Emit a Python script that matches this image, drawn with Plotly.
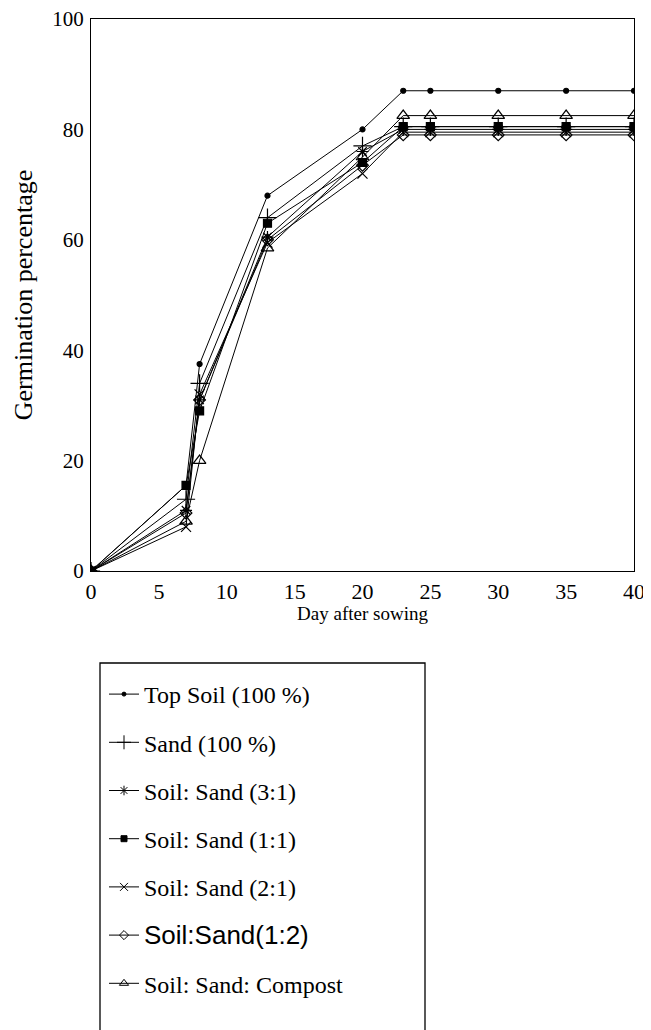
import plotly.graph_objects as go

days = [0, 7, 8, 13, 20, 23, 25, 30, 35, 40]

top_soil = [0, 15.5, 37.5, 68, 80, 87, 87, 87, 87, 87]
sand = [0, 13, 34, 64, 77, 80.5, 80.5, 80.5, 80.5, 80.5]
soil_sand_3_1 = [0, 11, 31, 60.5, 76, 80, 80, 80, 80, 80]
soil_sand_1_1 = [0, 15.5, 29, 63, 74, 80.5, 80.5, 80.5, 80.5, 80.5]
soil_sand_2_1 = [0, 8, 32, 59.5, 72, 79.5, 79.5, 79.5, 79.5, 79.5]
soil_sand_1_2 = [0, 10.5, 31, 60, 73.5, 79, 79, 79, 79, 79]
compost = [0, 9, 20, 58.5, 75, 82.5, 82.5, 82.5, 82.5, 82.5]

names = [
    "Top Soil (100 %)",
    "Sand (100 %)",
    "Soil: Sand (3:1)",
    "Soil: Sand (1:1)",
    "Soil: Sand (2:1)",
    '<span style="font-family:Liberation Sans;font-size:26px">Soil:Sand(1:2)</span>',
    "Soil: Sand: Compost",
]
series = [top_soil, sand, soil_sand_3_1, soil_sand_1_1, soil_sand_2_1, soil_sand_1_2, compost]
symbols = ["circle", "cross-thin-open", "asterisk-open", "square", "x-thin-open", "diamond-open", "triangle-up-open"]
sizes = [5, 13, 10, 8, 10, 9, 11]
legend_sizes = [4, 10, 8, 6, 8, 7, 8]

fig = go.Figure()
for i, (nm, ys, sym, sz) in enumerate(zip(names, series, symbols, sizes)):
    fig.add_trace(go.Scatter(
        x=days, y=ys, name=nm, mode="lines+markers",
        line=dict(color="black", width=1),
        marker=dict(symbol=sym, size=sz, color="black",
                    line=dict(color="black", width=1.2)),
        legendgroup=f"g{i}", showlegend=False,
    ))
# legend-only entries with smaller symbols
for i, (nm, sym, sz) in enumerate(zip(names, symbols, legend_sizes)):
    fig.add_trace(go.Scatter(
        x=[None], y=[None], name=nm, mode="lines+markers",
        line=dict(color="black", width=1),
        marker=dict(symbol=sym, size=sz, color="black",
                    line=dict(color="black", width=1)),
        legendgroup=f"g{i}", showlegend=True,
    ))

# page body has an 8px default margin
OFF = 8
W, H = 643, 1022
ml = 91 - OFF
mr = W - (634 - OFF)
mt = 19 - OFF
mb = 0
pw = W - ml - mr
ph = H - mt - mb


def px_x(p):
    return (p - OFF - ml) / pw


def px_y(p):
    return (H - mb - (p - OFF)) / ph


fig.update_layout(
    width=W, height=H,
    margin=dict(l=ml, r=mr, t=mt, b=mb, autoexpand=False),
    paper_bgcolor="white", plot_bgcolor="white",
    font=dict(family="Liberation Serif", size=22, color="black"),
    showlegend=True,
    legend=dict(
        x=px_x(104), y=px_y(672), xanchor="left", yanchor="top",
        bgcolor="rgba(0,0,0,0)", borderwidth=0,
        tracegroupgap=14, itemwidth=30,
        font=dict(family="Liberation Serif", size=24, color="black"),
    ),
    xaxis=dict(
        range=[0, 40], tickvals=list(range(0, 41, 5)),
        showline=True, linecolor="black", linewidth=1.2, mirror=True,
        showgrid=False, zeroline=False, ticks="", ticklabelstandoff=0,
        tickfont=dict(size=22), ticklabeloverflow="allow",
        title=dict(text="Day after sowing", standoff=0, font=dict(size=19)),
    ),
    yaxis=dict(
        domain=[px_y(571), 1], range=[0, 100], tickvals=list(range(0, 101, 20)),
        showline=True, linecolor="black", linewidth=1.2, mirror=True,
        showgrid=False, zeroline=False, ticks="", ticklabelstandoff=2,
        tickfont=dict(size=21), ticklabeloverflow="allow",
        title=dict(text="Germination percentage", standoff=12, font=dict(size=26)),
    ),
    shapes=[dict(
        type="rect", xref="paper", yref="paper",
        x0=px_x(100), x1=px_x(425), y0=-0.05, y1=px_y(663),
        line=dict(color="black", width=1.3), fillcolor="rgba(0,0,0,0)",
    )],
)

fig.write_html("out.html")
